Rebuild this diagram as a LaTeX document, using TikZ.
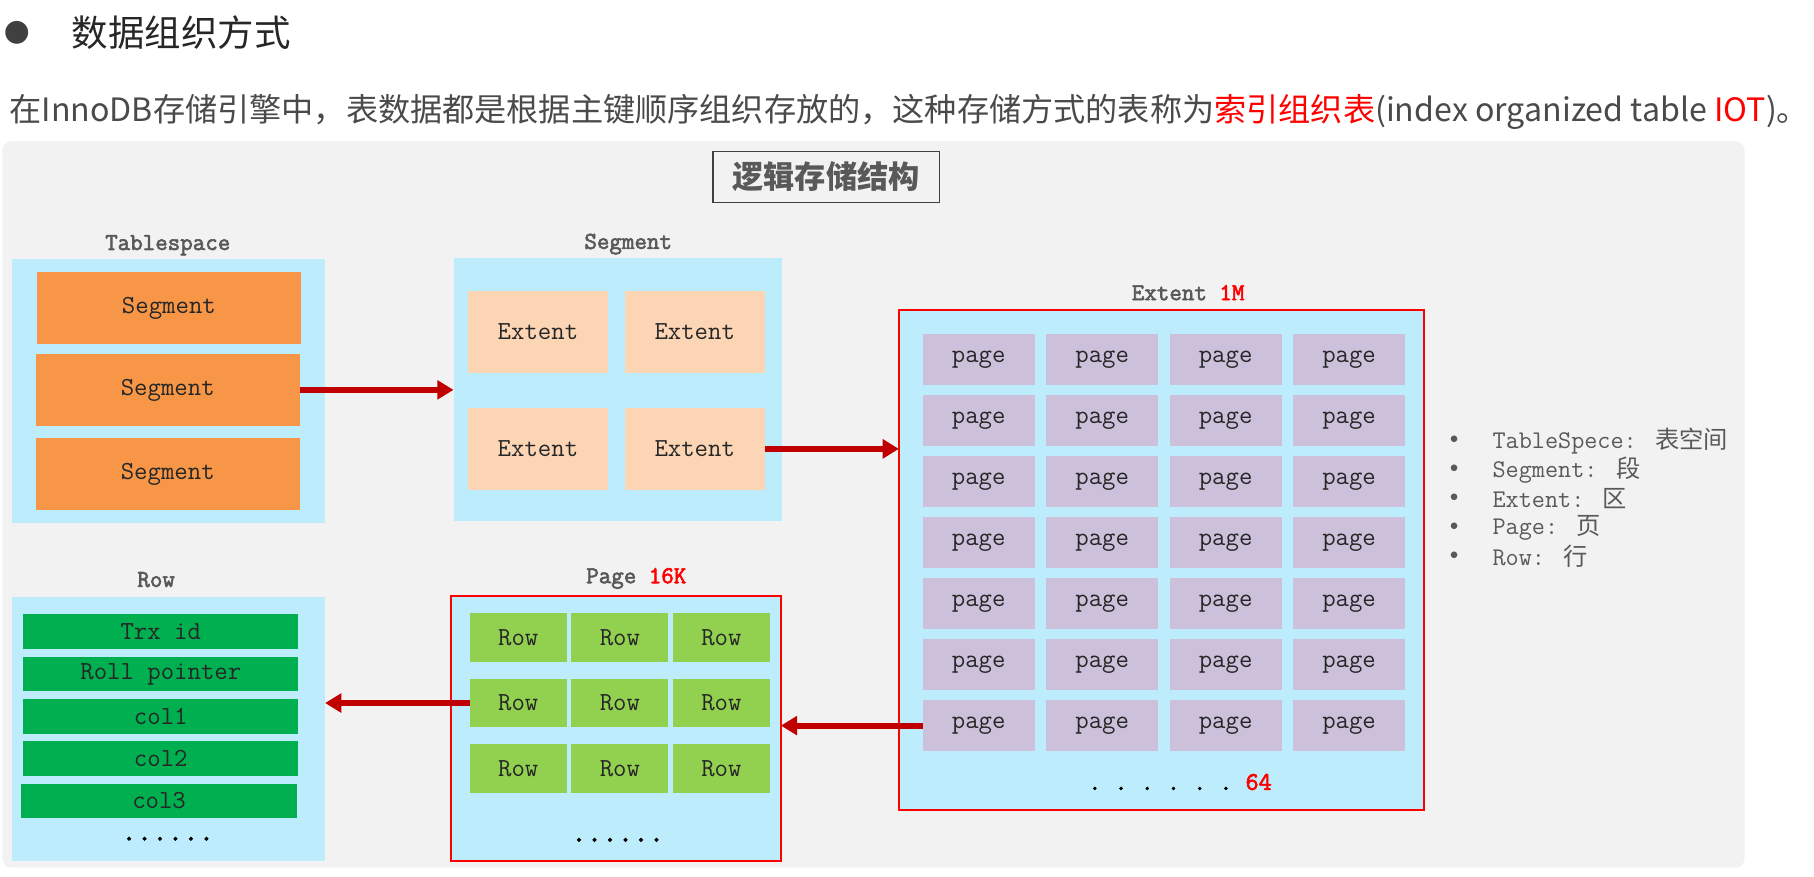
\documentclass[tikz,border=0pt]{standalone}
\usepackage{fontspec}
\setmainfont{Noto Sans CJK SC}
\setmonofont{Latin Modern Mono}[AutoFakeBold=2.5]
\newfontfamily\cjk{Noto Sans CJK SC}
\usetikzlibrary{arrows.meta,positioning}
\definecolor{bggray}{HTML}{F2F2F2}
\definecolor{skyblue}{HTML}{BDEDFC}
\definecolor{segorange}{HTML}{F79646}
\definecolor{extpeach}{HTML}{FCD5B4}
\definecolor{pagelav}{HTML}{CCC0DA}
\definecolor{rowlime}{HTML}{92D050}
\definecolor{colgreen}{HTML}{00B050}
\definecolor{arrowred}{HTML}{C00000}
\definecolor{labelgray}{HTML}{595959}
\definecolor{textgray}{HTML}{4A4A4A}

\tikzset{
  panel/.style={fill=skyblue, inner sep=0pt, outer sep=0pt},
  redpanel/.style={panel, draw=red, line width=2pt},
  cell/.style={inner sep=0pt, outer sep=0pt, font=\ttfamily\fontsize{22.5}{24}\selectfont, text=black!85},
  segcell/.style={cell, fill=segorange, minimum width=228pt, minimum height=62pt},
  extcell/.style={cell, fill=extpeach, minimum width=121pt, minimum height=71pt},
  pagecell/.style={cell, fill=pagelav, minimum width=97pt, minimum height=44pt},
  rowcell/.style={cell, fill=rowlime, minimum width=84pt, minimum height=42pt},
  colcell/.style={cell, fill=colgreen, minimum width=238pt, minimum height=30pt},
  lbl/.style={inner sep=0pt, font=\ttfamily\bfseries\fontsize{21}{23}\selectfont, text=labelgray},
  dots/.style={inner sep=0pt, font=\ttfamily\bfseries\fontsize{26}{28}\selectfont},
  legend/.style={inner sep=0pt, anchor=west, font=\ttfamily\fontsize{22}{24}\selectfont, text=labelgray},
  flow/.style={draw=arrowred, line width=5pt, -{Triangle[length=14pt,width=16pt]}},
}

\begin{document}
\begin{tikzpicture}[x=1pt, y=-1pt]
  \useasboundingbox (0,0) rectangle (1568,758);

  % heading and intro line
  \node[inner sep=0pt, text=black!75, font=\fontsize{22}{24}\selectfont] (bullet) at (15,28) {●};
  \node[inner sep=0pt, anchor=west, text=black!85, font=\fontsize{31.5}{33}\selectfont] (heading) at (62,28) {数据组织方式};
  \node[inner sep=0pt, anchor=west, text=textgray, font=\fontsize{27.8}{30}\selectfont] (intro) at (8,97)
    {在InnoDB存储引擎中，表数据都是根据主键顺序组织存放的，这种存储方式的表称为\textcolor{red}{索引组织表}(index organized table \textcolor{red}{IOT})。};

  % background
  \fill[bggray, rounded corners=8pt] (2,122) rectangle (1508,750);
  \node[draw=black!75, line width=1.5pt, fill=bggray, minimum width=196pt, minimum height=44pt,
        inner sep=0pt, text=labelgray, font=\bfseries\fontsize{27}{29}\selectfont] (caption) at (714,153) {逻辑存储结构};

  % ── Tablespace ──────────────────────────────
  \node[lbl] (tsl) at (145,212) {Tablespace};
  \node[panel, minimum width=271pt, minimum height=228pt] (ts) at (145.5,338) {};
  \node[segcell] (seg1) at (146,266.5) {Segment};
  \node[segcell] (seg2) at (145,337) {Segment};
  \node[segcell] (seg3) at (145,410) {Segment};

  % ── Segment ─────────────────────────────────
  \node[lbl] (sgl) at (543,211) {Segment};
  \node[panel, minimum width=284pt, minimum height=227pt] (sg) at (534,336.5) {};
  \foreach \r/\y in {1/287,2/388}
    \foreach \c/\x in {1/465,2/600.5}
      \node[extcell] (ext-\r-\c) at (\x,\y) {Extent};

  % ── Extent ──────────────────────────────────
  \node[lbl] (exl) at (1027,253) {Extent \textcolor{red}{1M}};
  \node[redpanel, minimum width=454pt, minimum height=432pt] (ex) at (1004,484) {};
  \foreach \r in {1,...,7}
    \foreach \c in {1,...,4}
      \node[pagecell] (pg-\r-\c) at ({846+106.7*(\c-1)},{311+52.7*(\r-1)}) {page};
  \node[dots, font=\ttfamily\bfseries\fontsize{22}{24}\selectfont] (exdots) at (1020,676) {. . . . . . \textcolor{red}{64}};

  % ── Page ────────────────────────────────────
  \node[lbl] (pgl) at (550,500) {Page \textcolor{red}{16K}};
  \node[redpanel, minimum width=285pt, minimum height=229pt] (pgbox) at (532.5,629.5) {};
  \foreach \r in {1,2,3}
    \foreach \c in {1,2,3}
      \node[rowcell] (rc-\r-\c) at ({448+87.8*(\c-1)},{551+56.7*(\r-1)}) {Row};
  \node[dots] (pgdots) at (534,726) {......};

  % ── Row ─────────────────────────────────────
  \node[lbl] (rwl) at (135,501) {Row};
  \node[panel, minimum width=271pt, minimum height=228pt] (rw) at (145.5,630) {};
  \foreach \t [count=\i] in {Trx id,Roll pointer,col1,col2,col3}
    \node[colcell] (col\i) at ({139-(\i==5)*1.5},{546+36.6*(\i-1)}) {\t};
  \node[dots] (rwdots) at (145,725) {......};

  % ── flow arrows ─────────────────────────────
  \draw[flow] (seg2.east) -- (sg.west |- seg2.east);
  \draw[flow] (ext-2-2.east) -- (ex.west |- ext-2-2.east);
  \draw[flow] (pg-7-1.west) -- (pgbox.east |- pg-7-1.west);
  \draw[flow] (rc-2-1.west) -- (rw.east |- rc-2-1.west);

  % legend
  \foreach \k/\v [count=\i] in {TableSpece/表空间,Segment/段,Extent/区,Page/页,Row/行} {
    \node[legend] (bl\i) at (1251,{381+25*(\i-1)}) {•};
    \node[legend] (lg\i) at (1290,{381+25*(\i-1)}) {\k:\hspace*{16pt}{\cjk\fontsize{21}{23}\selectfont\v}};
  }
\end{tikzpicture}
\end{document}
